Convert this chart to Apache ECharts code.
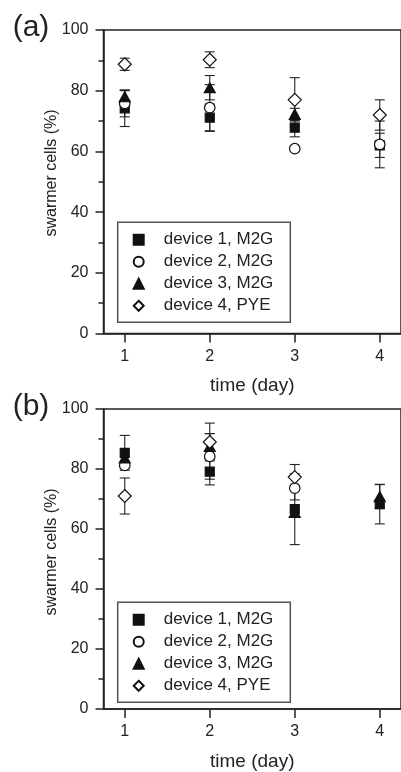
<!DOCTYPE html>
<html>
<head>
<meta charset="utf-8">
<script src="https://cdn.jsdelivr.net/npm/echarts@6/dist/echarts.min.js"></script>
<style>
html,body{margin:0;padding:0;background:#fff;}
#chart{width:401px;height:772px;}
</style>
</head>
<body>
<div id="chart"></div>
<script>
// ---- data ----
const days = [1, 2, 3, 4];
const seriesNames = ['device 1, M2G', 'device 2, M2G', 'device 3, M2G', 'device 4, PYE'];
const yTicks = [0, 20, 40, 60, 80, 100];

// panel (a)
const aDev1 = [74.2, 71.1, 67.8, 62.0];
const aDev1Err = [6.0, 4.5, 3.0, 4.0];
const aDev2 = [75.8, 74.4, 60.9, 62.3];
const aDev2Err = [4.4, 7.6, null, 7.7];
const aDev3 = [78.0, 81.0, 72.2, null];
const aDev3Err = [2.0, 4.0, 2.0, null];
const aDev4 = [88.7, 90.2, 77.0, 72.0];
const aDev4Err = [2.0, 2.6, 7.3, 5.0];

// panel (b)
const bDev1 = [85.4, 79.1, 66.6, 68.3];
const bDev1Err = [5.8, 4.4, 11.8, 6.6];
const bDev2 = [81.2, 84.2, 73.6, null];
const bDev2Err = [null, 7.6, 3.9, null];
const bDev3 = [83.7, 87.5, 65.5, 70.8];
const bDev3Err = [null, 4.3, null, 4.0];
const bDev4 = [71.0, 89.0, 77.3, null];
const bDev4Err = [6.0, 6.3, 4.2, null];

// ---- build ----
const INK = '#222';
const FONT = '"Liberation Sans", Arial, sans-serif';
const symbols = [
  {symbol: 'rect', size: [9, 9], fill: '#111', border: '#111'},
  {symbol: 'circle', size: [10.5, 10.5], fill: '#fff', border: '#111'},
  {symbol: 'triangle', size: [11, 10], fill: '#111', border: '#111'},
  {symbol: 'diamond', size: [13, 13], fill: '#fff', border: '#111'}
];

function pts(vals) {
  const out = [];
  vals.forEach((v, i) => { if (v != null) out.push([days[i], v]); });
  return out;
}
function errPts(vals, errs) {
  const out = [];
  vals.forEach((v, i) => { if (v != null && errs[i] != null) out.push([days[i], v, errs[i]]); });
  return out;
}
function renderErr(params, api) {
  const x = api.value(0), y = api.value(1), e = api.value(2);
  const t = api.coord([x, y + e]);
  const b = api.coord([x, y - e]);
  const hw = 5;
  const st = {stroke: INK, lineWidth: 1.1};
  return {
    type: 'group',
    children: [
      {type: 'line', shape: {x1: t[0], y1: t[1], x2: b[0], y2: b[1]}, style: st},
      {type: 'line', shape: {x1: t[0] - hw, y1: t[1], x2: t[0] + hw, y2: t[1]}, style: st},
      {type: 'line', shape: {x1: b[0] - hw, y1: b[1], x2: b[0] + hw, y2: b[1]}, style: st}
    ]
  };
}

const panels = [
  {vals: [aDev1, aDev2, aDev3, aDev4], errs: [aDev1Err, aDev2Err, aDev3Err, aDev4Err]},
  {vals: [bDev1, bDev2, bDev3, bDev4], errs: [bDev1Err, bDev2Err, bDev3Err, bDev4Err]}
];
const gridTops = [30, 409];
const gridH = 303.5;

const series = [];
panels.forEach((p, gi) => {
  p.vals.forEach((v, si) => {
    series.push({
      type: 'custom', name: seriesNames[si] + ' err', xAxisIndex: gi, yAxisIndex: gi,
      renderItem: renderErr, data: errPts(v, p.errs[si]), z: 2, silent: true,
      encode: {x: 0, y: 1}
    });
  });
  p.vals.forEach((v, si) => {
    const s = symbols[si];
    series.push({
      type: 'scatter', name: seriesNames[si], xAxisIndex: gi, yAxisIndex: gi,
      symbol: s.symbol, symbolSize: s.size, data: pts(v), z: 3 + si,
      itemStyle: {color: s.fill, borderColor: s.border, borderWidth: 1.2, opacity: 1}
    });
  });
});

const grids = gridTops.map(t => ({
  left: 103.5, right: -6.75, top: t, height: gridH,
  show: true, borderColor: INK, borderWidth: 1.5, backgroundColor: 'transparent'
}));

const xAxes = gridTops.map((t, gi) => ({
  type: 'value', gridIndex: gi, min: 0.75, max: 4.25,
  name: 'time (day)', nameLocation: 'middle', nameGap: 43,
  nameTextStyle: {fontSize: 19, color: INK, fontFamily: FONT},
  axisLine: {lineStyle: {color: INK, width: 1.5}},
  axisTick: {show: true, inside: false, length: 9, customValues: days, lineStyle: {color: INK, width: 1.5}},
  axisLabel: {customValues: days, fontSize: 16, color: INK, fontFamily: FONT, margin: 15},
  splitLine: {show: false}
}));

const yAxes = gridTops.map((t, gi) => ({
  type: 'value', gridIndex: gi, min: yTicks[0], max: yTicks[yTicks.length - 1], interval: 20,
  axisLine: {show: true, lineStyle: {color: INK, width: 1.5}},
  axisTick: {show: true, inside: false, length: 8, lineStyle: {color: INK, width: 1.5}},
  minorTick: {show: true, splitNumber: 2, length: 5, lineStyle: {color: INK, width: 1.5}},
  axisLabel: {fontSize: 16, color: INK, fontFamily: FONT, margin: 15},
  splitLine: {show: false}, minorSplitLine: {show: false}
}));

const legendTops = [222.3, 602.3];
const legends = legendTops.map(t => ({
  data: seriesNames, orient: 'vertical', left: 117.7, top: t,
  padding: [9, 17, 8, 15], itemGap: 5, itemWidth: 10, itemHeight: 10,
  borderColor: '#555', borderWidth: 1.5, selectedMode: false,
  textStyle: {fontSize: 17, color: INK, fontFamily: FONT, padding: [0, 0, 0, 15], lineHeight: 17}
}));

const graphics = [
  {type: 'text', x: 31, y: 28, style: {text: '(a)', font: '30px ' + FONT, fill: INK, align: 'center', verticalAlign: 'middle'}},
  {type: 'text', x: 31, y: 407, style: {text: '(b)', font: '30px ' + FONT, fill: INK, align: 'center', verticalAlign: 'middle'}},
  {type: 'text', x: 52, y: 173, rotation: Math.PI / 2, style: {text: 'swarmer cells (%)', font: '16px ' + FONT, fill: INK, align: 'center', verticalAlign: 'middle'}},
  {type: 'text', x: 52, y: 552, rotation: Math.PI / 2, style: {text: 'swarmer cells (%)', font: '16px ' + FONT, fill: INK, align: 'center', verticalAlign: 'middle'}}
];

const chart = echarts.init(document.getElementById('chart'), null, {renderer: 'canvas'});
chart.setOption({
  animation: false,
  backgroundColor: '#fff',
  grid: grids, xAxis: xAxes, yAxis: yAxes, legend: legends,
  graphic: graphics, series: series
});
</script>
</body>
</html>
